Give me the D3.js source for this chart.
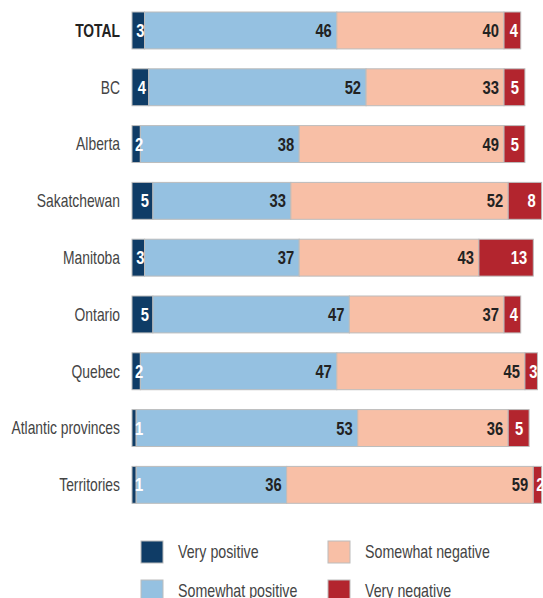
<!DOCTYPE html>
<html>
<head>
<meta charset="utf-8">
<script src="https://cdn.jsdelivr.net/npm/d3@7"></script>
<style>
  body { margin: 0; background: #fff; }
  svg { font-family: "Liberation Sans", Arial, sans-serif; }
</style>
</head>
<body>
<div id="chart"></div>
<script>
const regions = ["TOTAL", "BC", "Alberta", "Sakatchewan", "Manitoba", "Ontario", "Quebec", "Atlantic provinces", "Territories"];
const veryPositive = [3, 4, 2, 5, 3, 5, 2, 1, 1];
const somewhatPositive = [46, 52, 38, 33, 37, 47, 47, 53, 36];
const somewhatNegative = [40, 33, 49, 52, 43, 37, 45, 36, 59];
const veryNegative = [4, 5, 5, 8, 13, 4, 3, 5, 2];
const seriesNames = ["Very positive", "Somewhat positive", "Somewhat negative", "Very negative"];
const colors = ["#0f3c66", "#95c1e1", "#f8bfa6", "#b3252e"];

const width = 543, height = 598;
// the reference uses a condensed face, squeeze the text horizontally
const squeeze = 0.77;

const svg = d3.select("#chart").append("svg")
    .attr("width", width)
    .attr("height", height);

const rows = regions.map((r, i) => ({
    region: r,
    "Very positive": veryPositive[i],
    "Somewhat positive": somewhatPositive[i],
    "Somewhat negative": somewhatNegative[i],
    "Very negative": veryNegative[i]
}));

const stack = d3.stack().keys(seriesNames);
const series = stack(rows);

const x = d3.scaleLinear().domain([0, 100]).range([132, 550]);
const y = d3.scaleBand().domain(regions).range([12, 12 + 56.8 * 8.65]).paddingInner(0.35).paddingOuter(0);
const color = d3.scaleOrdinal().domain(seriesNames).range(colors);

function at(px, py, k) {
    return "translate(" + px + "," + py + ") scale(" + (k || squeeze) + ",1)";
}

// region labels
svg.append("g").selectAll("text")
    .data(regions)
    .enter().append("text")
    .attr("transform", d => at(120, y(d) + y.bandwidth() / 2))
    .attr("dy", "0.35em")
    .attr("text-anchor", "end")
    .attr("fill", d => d == "TOTAL" ? "#222" : "#444")
    .attr("font-weight", d => d == "TOTAL" ? "bold" : "normal")
    .style("font-size", "18px")
    .text(d => d);

const groups = svg.append("g").selectAll("g")
    .data(series)
    .enter().append("g")
    .attr("fill", d => color(d.key));

groups.selectAll("rect")
    .data(d => d)
    .enter().append("rect")
    .attr("x", d => x(d[0]))
    .attr("y", d => y(d.data.region))
    .attr("width", d => x(d[1]) - x(d[0]))
    .attr("height", y.bandwidth())
    .attr("stroke", "#bcbcbc")
    .attr("stroke-width", 1);

// value labels
const numK = 0.82;
series.forEach((s, si) => {
    const inner = si == 1 || si == 2;
    svg.append("g").selectAll("text")
        .data(s)
        .enter().append("text")
        .attr("dy", "0.36em")
        .attr("text-anchor", inner ? "end" : "start")
        .attr("fill", inner ? "#222" : "#fff")
        .attr("font-weight", "bold")
        .style("font-size", "18px")
        .text(d => d[1] - d[0])
        .attr("transform", function (d) {
            const cy = y(d.data.region) + y.bandwidth() / 2;
            const x0 = x(d[0]), x1 = x(d[1]);
            if (inner) return at(x1 - 5, cy, numK);
            // small end segments: tuck the label to the right, but keep it inside the left edge
            const tw = this.getComputedTextLength() * numK;
            const inset = Math.min(si == 0 ? 4 : 6, Math.max(0, (x1 - x0) - 14));
            return at(Math.max(x1 - inset - tw, x0 + 3), cy, numK);
        });
});

// legend
const legendPos = [[141, 541], [141, 580], [328, 541], [328, 580]];
const legend = svg.append("g").selectAll("g")
    .data(seriesNames)
    .enter().append("g")
    .attr("transform", (d, i) => "translate(" + legendPos[i][0] + "," + legendPos[i][1] + ")");

legend.append("rect")
    .attr("width", 22)
    .attr("height", 22)
    .attr("fill", d => color(d))
    .attr("stroke", "#bcbcbc");

legend.append("text")
    .attr("transform", at(37, 11, 0.79))
    .attr("dy", "0.35em")
    .attr("fill", "#444")
    .style("font-size", "18px")
    .text(d => d);
</script>
</body>
</html>
